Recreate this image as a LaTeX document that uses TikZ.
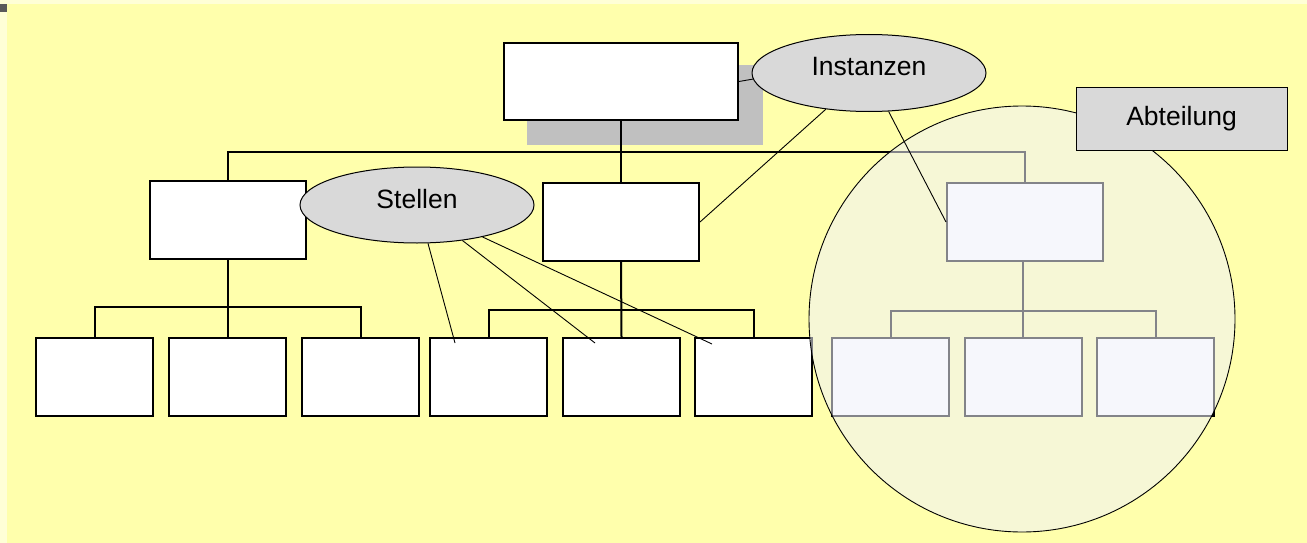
\documentclass[tikz,border=0pt]{standalone}
\usepackage{fontspec}
\setmainfont{Liberation Sans}
\usetikzlibrary{shapes.geometric,calc}

\definecolor{paleframe}{RGB}{255,255,214}
\definecolor{slidebg}{RGB}{255,255,172}
\definecolor{marker}{RGB}{90,90,90}
\definecolor{shadowgray}{RGB}{192,192,192}
\definecolor{bubblegray}{RGB}{217,217,217}
\definecolor{haze}{RGB}{240,242,250}

\tikzset{
  orgbox/.style={draw=black, line width=2pt, fill=white, inner sep=0pt},
  toplevel/.style={orgbox, minimum width=234pt, minimum height=77pt},
  midlevel/.style={orgbox, minimum width=156pt, minimum height=78pt},
  lowlevel/.style={orgbox, minimum width=117pt, minimum height=78pt},
  tie/.style={line width=2pt, line join=miter},
  bubble/.style={ellipse, draw=black, line width=1pt, fill=bubblegray,
                 minimum width=234pt, minimum height=77pt, inner sep=0pt},
  pointer/.style={draw=black, line width=0.9pt},
  caption/.style={font=\fontsize{26.5}{30}\selectfont, text=black, inner sep=0pt},
}

\begin{document}
\begin{tikzpicture}[x=1pt, y=-1pt]
  % page and slide background
  \useasboundingbox (0,0) rectangle (1307,543);
  \fill[paleframe] (0,0) rectangle (1307,543);
  \fill[slidebg] (7,4) rectangle (1307,543);
  \fill[marker] (0,4) rectangle (7,12);

  % shadow behind the top box
  \fill[shadowgray] (527,65) rectangle (763,145);

  % organisation chart boxes
  \node[toplevel] (top) at (621,81.5) {};
  \node[midlevel] (L) at (227.5,220) {};
  \node[midlevel] (M) at (621,222) {};
  \node[midlevel] (R) at (1025,222) {};

  \node[lowlevel] (b1) at (94.5,377) {};
  \node[lowlevel] (b2) at (227.5,377) {};
  \node[lowlevel] (b3) at (360.5,377) {};
  \node[lowlevel] (b4) at (488.5,377) {};
  \node[lowlevel] (b5) at (621.5,377) {};
  \node[lowlevel] (b6) at (753.5,377) {};
  \node[lowlevel] (b7) at (890.5,377) {};
  \node[lowlevel] (b8) at (1023,377) {};
  \node[lowlevel] (b9) at (1155.5,377) {};

  % bus lines
  \coordinate (bus0) at (0,152);
  \coordinate (busL) at (0,307);
  \coordinate (busM) at (0,310);
  \coordinate (busR) at (0,311);

  \draw[tie] (top.south) -- (M.north);
  \draw[tie] (L.north) -- (L.north |- bus0) -- (R.north |- bus0) -- (R.north);

  \draw[tie] (L.south) -- (b2.north);
  \draw[tie] (b1.north) -- (b1.north |- busL) -- (b3.north |- busL) -- (b3.north);

  \draw[tie] (M.south) -- (b5.north);
  \draw[tie] (b4.north) -- (b4.north |- busM) -- (b6.north |- busM) -- (b6.north);

  \draw[tie] (b8.north |- R.south) -- (b8.north);
  \draw[tie] (b7.north) -- (b7.north |- busR) -- (b9.north |- busR) -- (b9.north);

  % department highlight
  \node[circle, draw=black, line width=0.9pt, fill=haze, fill opacity=0.55,
        minimum size=426pt, inner sep=0pt] (dept) at (1022,319) {};

  % callouts
  \node[bubble] (inst) at (869,73) {};
  \node[caption, anchor=base] (instT) at (869,76) {Instanzen};
  \node[bubble, minimum height=76pt] (stel) at (417,205) {};
  \node[caption, anchor=base] (stelT) at (417,208) {Stellen};

  \draw[pointer] (top.east) -- (inst.183);
  \draw[pointer] (inst.-140) -- (M.east);
  \draw[pointer] (inst.-63) -- (R.west);

  \draw[pointer] (stel.-74) -- ($(b4.north west)+(26,6)$);
  \draw[pointer] (stel.-38) -- ($(b5.north west)+(33,6)$);
  \draw[pointer] (stel.-26) -- ($(b6.north west)+(18,7)$);

  \node[draw=black, line width=1pt, fill=bubblegray, minimum width=211pt,
        minimum height=62pt, inner sep=0pt, caption] (abt) at (1181.5,119) {Abteilung};
\end{tikzpicture}
\end{document}
